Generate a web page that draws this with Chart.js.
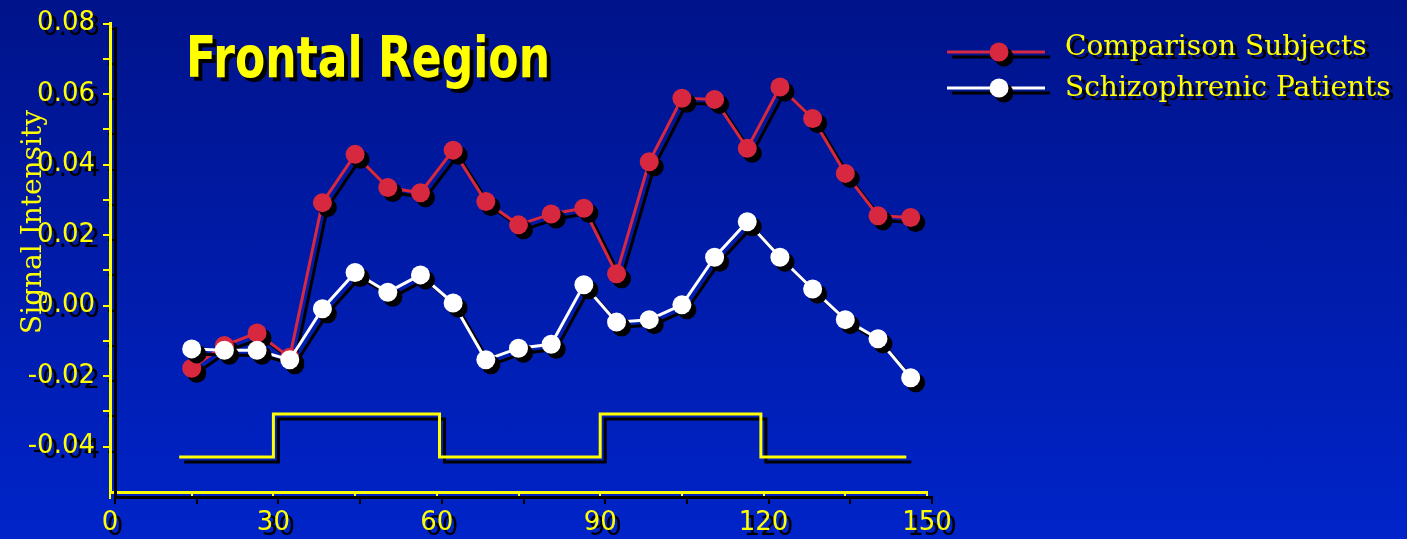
<!DOCTYPE html>
<html>
<head>
<meta charset="utf-8">
<script src="https://cdn.jsdelivr.net/npm/chart.js@4.4.1/dist/chart.umd.min.js"></script>
<style>
    html, body { margin: 0; padding: 0; }
    body { width: 1407px; height: 539px; overflow: hidden; background: linear-gradient(#00138a, #0024c9); }
    #caja { position: relative; width: 1407px; height: 539px; }
</style>
</head>
<body>
<div id="caja"><canvas id="grafico"></canvas></div>
<script>
// tiempo (s) de cada imagen
const tiempos = [15, 21, 27, 33, 39, 45, 51, 57, 63, 69, 75, 81, 87, 93, 99, 105, 111, 117, 123, 129, 135, 141, 147];

const comparacion = [-0.0178, -0.0113, -0.0078, -0.0147, 0.0292, 0.0429, 0.0335, 0.0320, 0.0441, 0.0295, 0.0229, 0.0260,
    0.0276, 0.0090, 0.0408, 0.0588, 0.0585, 0.0446, 0.0620, 0.0531, 0.0375, 0.0255, 0.0250];

const esquizofrenia = [-0.0123, -0.0127, -0.0127, -0.0154, -0.0009, 0.0094, 0.0038, 0.0087, 0.0007, -0.0154, -0.0121, -0.0110,
    0.0059, -0.0047, -0.0040, 0.0002, 0.0137, 0.0238, 0.0137, 0.0047, -0.0040, -0.0094, -0.0205];

// bloques de estimulo (onda cuadrada)
const bloquesX = [12.7, 30, 60.5, 90, 119.5, 146.2];
const bloquesY = [-0.0430, -0.0308, -0.0430, -0.0308, -0.0430, -0.0430];

const ticksX = [0, 30, 60, 90, 120, 150];
const ticksY = [-0.04, -0.02, 0.00, 0.02, 0.04, 0.06, 0.08];

const AMARILLO = '#ffff00';
const ROJO = '#d8283f';

// sombra negra para todo lo que dibuja chart.js
const sombra = {
    id: 'sombra',
    beforeDraw(chart) {
        const ctx = chart.ctx;
        ctx.save();
        ctx.shadowColor = '#000000';
        ctx.shadowBlur = 0;
        ctx.shadowOffsetX = 5;
        ctx.shadowOffsetY = 5;
    },
    afterDatasetsDraw(chart) {
        chart.ctx.restore();
    }
};

// titulo, leyenda y nombre del eje Y
const textos = {
    id: 'textos',
    afterDraw(chart) {
        const ctx = chart.ctx;
        ctx.save();
        ctx.shadowColor = '#000000';
        ctx.shadowBlur = 0;
        ctx.shadowOffsetX = 4;
        ctx.shadowOffsetY = 4;

        // titulo
        ctx.font = 'bold 57px "DejaVu Sans"';
        ctx.fillStyle = AMARILLO;
        ctx.textBaseline = 'alphabetic';
        ctx.textAlign = 'left';
        const w = ctx.measureText('Frontal Region').width;
        ctx.save();
        ctx.translate(186, 77);
        ctx.scale(364 / w, 1);
        ctx.fillText('Frontal Region', 0, 0);
        ctx.restore();

        // leyenda
        const filas = [
            { ds: chart.data.datasets[1], y: 52, ty: 48 },
            { ds: chart.data.datasets[0], y: 88, ty: 89 }
        ];
        filas.forEach(f => {
            ctx.shadowOffsetX = 5;
            ctx.shadowOffsetY = 5;
            ctx.strokeStyle = f.ds.borderColor;
            ctx.lineWidth = 3;
            ctx.beginPath();
            ctx.moveTo(947, f.y);
            ctx.lineTo(1045, f.y);
            ctx.stroke();
            ctx.fillStyle = f.ds.pointBackgroundColor;
            ctx.beginPath();
            ctx.arc(999, f.y, 9.5, 0, Math.PI * 2);
            ctx.fill();

            ctx.shadowOffsetX = 4;
            ctx.shadowOffsetY = 4;
            ctx.font = '28px "DejaVu Serif"';
            ctx.fillStyle = AMARILLO;
            ctx.textBaseline = 'middle';
            ctx.fillText(f.ds.label, 1065, f.ty);
        });
        ctx.restore();

        // eje Y sin sombra
        ctx.save();
        ctx.font = '28px "DejaVu Serif"';
        ctx.fillStyle = AMARILLO;
        ctx.textAlign = 'center';
        ctx.textBaseline = 'middle';
        ctx.translate(34, 222);
        ctx.rotate(-Math.PI / 2);
        ctx.fillText('Signal Intensity', 0, 0);
        ctx.restore();
    }
};

const datosBloques = bloquesX.map((x, i) => ({ x: x, y: bloquesY[i] }));

const grafico = new Chart(document.getElementById('grafico'), {
    type: 'line',
    data: {
        datasets: [
            {
                label: 'Schizophrenic Patients',
                data: tiempos.map((t, i) => ({ x: t, y: esquizofrenia[i] })),
                borderColor: '#ffffff',
                pointBackgroundColor: '#ffffff',
                pointBorderWidth: 0,
                pointRadius: 9.5,
                borderWidth: 3,
                order: 0
            },
            {
                label: 'Comparison Subjects',
                data: tiempos.map((t, i) => ({ x: t, y: comparacion[i] })),
                borderColor: ROJO,
                pointBackgroundColor: ROJO,
                pointBorderWidth: 0,
                pointRadius: 9.5,
                borderWidth: 3,
                order: 1
            },
            {
                label: '',
                data: datosBloques,
                borderColor: AMARILLO,
                borderWidth: 3,
                pointRadius: 0,
                stepped: 'before',
                order: 2
            }
        ]
    },
    options: {
        responsive: true,
        maintainAspectRatio: false,
        animation: false,
        events: [],
        clip: false,
        layout: {
            padding: { left: 0, top: 22, right: 480, bottom: 0 }
        },
        plugins: {
            legend: { display: false },
            tooltip: { enabled: false }
        },
        scales: {
            x: {
                type: 'linear',
                min: 0,
                max: 150,
                afterFit: (s) => { s.height = 47; },
                afterBuildTicks: (s) => {
                    const t = [];
                    ticksX.forEach((v, i) => {
                        t.push({ value: v });
                        if (i < ticksX.length - 1) t.push({ value: v + 15 });
                    });
                    s.ticks = t;
                },
                ticks: {
                    color: AMARILLO,
                    font: { family: 'DejaVu Sans', size: 26 },
                    padding: 9,
                    maxRotation: 0,
                    autoSkip: false,
                    callback: (v) => (ticksX.includes(v) ? String(v) : '')
                },
                grid: {
                    drawOnChartArea: false,
                    color: AMARILLO,
                    lineWidth: 2,
                    tickLength: 7
                },
                border: { color: AMARILLO, width: 3 }
            },
            y: {
                type: 'linear',
                min: -0.0529,
                max: 0.08,
                afterFit: (s) => { s.width = 110; },
                afterBuildTicks: (s) => {
                    const t = [];
                    ticksY.forEach((v, i) => {
                        t.push({ value: v });
                        if (i < ticksY.length - 1) t.push({ value: v + 0.01 });
                    });
                    s.ticks = t;
                },
                ticks: {
                    color: AMARILLO,
                    font: { family: 'DejaVu Sans', size: 26 },
                    padding: 8,
                    autoSkip: false,
                    callback: (v) => {
                        const k = ticksY.find(y => Math.abs(y - v) < 1e-6);
                        return k === undefined ? '' : k.toFixed(2);
                    }
                },
                grid: {
                    drawOnChartArea: false,
                    color: AMARILLO,
                    lineWidth: 2,
                    tickLength: 7
                },
                border: { color: AMARILLO, width: 3 }
            }
        }
    },
    plugins: [sombra, textos]
});
</script>
</body>
</html>
